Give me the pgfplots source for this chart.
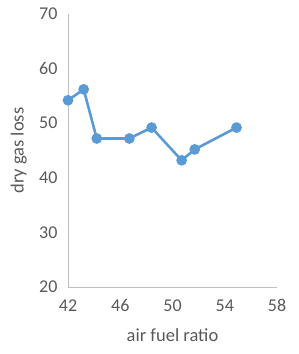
\documentclass[border=0pt]{standalone}
\usepackage{pgfplots}
\pgfplotsset{compat=1.18}
\usepackage{fontspec}
\setmainfont{Carlito}
\definecolor{txt}{HTML}{595959}
\definecolor{ax}{HTML}{BFBFBF}
\definecolor{ser}{HTML}{5B9BD5}
\begin{document}
\begin{tikzpicture}[x=1pt,y=1pt]
\path[use as bounding box] (-68,-67) rectangle (231,287);
\begin{axis}[
  at={(0,0)}, anchor=origin,
  scale only axis, width=209pt, height=273pt,
  xmin=42, xmax=58, ymin=20, ymax=70,
  xtick={42,46,50,54,58}, ytick={20,30,40,50,60,70},
  axis x line*=bottom, axis y line*=left,
  axis line style={ax, line width=0.8pt, -},
  tick style={draw=none},
  /pgf/number format/assume math mode=true,
  ticklabel style={font=\fontsize{18}{20}\selectfont, text=txt},
  xticklabel style={yshift=-9pt},
  yticklabel style={xshift=-7pt},
  xlabel={air fuel ratio}, ylabel={dry gas loss},
  label style={font=\fontsize{18.5}{21}\selectfont, text=txt},
  xlabel style={at={(axis description cs:0.5,0)}, anchor=base, yshift=-54pt},
  ylabel style={at={(axis description cs:-0.235,0.5)}, anchor=center},
  clip=false,
]
\addplot[ser, line width=2.6pt, mark=*, mark size=4pt, mark options={solid, fill=ser, draw=none}]
coordinates {(42,54.2) (43.2,56.2) (44.2,47.2) (46.7,47.2) (48.4,49.2) (50.7,43.2) (51.7,45.2) (54.9,49.2)};
\end{axis}
\end{tikzpicture}
\end{document}
